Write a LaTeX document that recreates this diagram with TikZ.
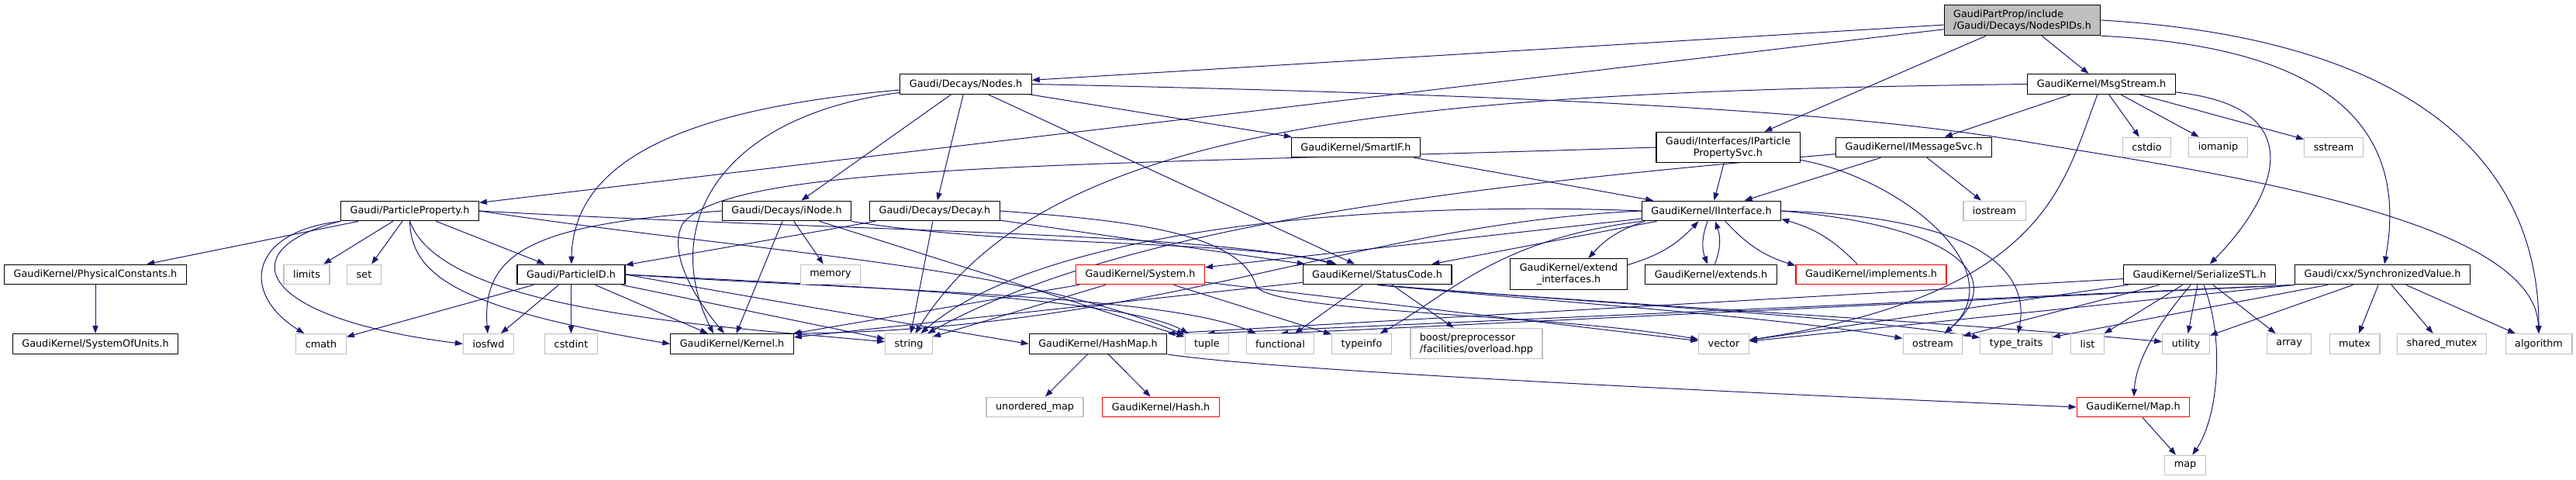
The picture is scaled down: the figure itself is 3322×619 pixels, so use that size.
\documentclass[tikz,border=0pt]{standalone}
\usepackage{fontspec}
\setmainfont{DejaVu Sans}
\usetikzlibrary{arrows.meta,backgrounds}
\definecolor{edgeblue}{HTML}{191970}
\definecolor{extgray}{HTML}{BFBFBF}
\tikzset{
  file/.style={draw=black, fill=white, line width=0.6pt, inner xsep=6pt, inner ysep=3pt,
    minimum height=12.8pt, align=center, font=\fontsize{6.4}{7.5}\selectfont},
  sysfile/.style={file, draw=extgray},
  cutfile/.style={file, draw=red},
  rootfile/.style={file, fill=extgray, align=left},
  dep/.style={edgeblue, line width=0.5pt, -{Triangle[length=5pt,width=3.6pt]}}
}

\begin{document}
\begin{tikzpicture}[x=0.5pt,y=0.5pt]
  \useasboundingbox (0,0) rectangle (3322,619);

  \node[rootfile] (nodespids) at (2608,593) {GaudiPartProp/include\\/Gaudi/Decays/NodesPIDs.h};

  \node[file] (nodes) at (1245.5,510.5) {Gaudi/Decays/Nodes.h};
  \node[file] (msg) at (2710,510.5) {GaudiKernel/MsgStream.h};

  \node[file] (smartif) at (1748.5,429) {GaudiKernel/SmartIF.h};
  \node[file] (ppsvc) at (2228.5,429) {Gaudi/Interfaces/IParticle\\PropertySvc.h};
  \node[file] (imsg) at (2468,429) {GaudiKernel/IMessageSvc.h};
  \node[sysfile] (cstdio) at (2768.5,429) {cstdio};
  \node[sysfile] (iomanip) at (2860.5,429) {iomanip};
  \node[sysfile] (sstream) at (3009.5,429) {sstream};

  \node[file] (ppty) at (528.5,347) {Gaudi/ParticleProperty.h};
  \node[file] (inode) at (1014.5,347) {Gaudi/Decays/iNode.h};
  \node[file] (decay) at (1205.5,347) {Gaudi/Decays/Decay.h};
  \node[file] (iinterface) at (2207,347) {GaudiKernel/IInterface.h};
  \node[sysfile] (iostream) at (2572,347) {iostream};

  \node[file] (physconst) at (123,265) {GaudiKernel/PhysicalConstants.h};
  \node[sysfile] (limits) at (395.5,265) {limits};
  \node[sysfile] (set) at (469.5,265) {set};
  \node[file] (pid) at (736.5,265) {Gaudi/ParticleID.h};
  \node[sysfile] (memory) at (1071,265) {memory};
  \node[cutfile] (system) at (1470.5,265) {GaudiKernel/System.h};
  \node[file] (status) at (1776,265) {GaudiKernel/StatusCode.h};
  \node[file] (extif) at (2023,265.5) {GaudiKernel/extend\\\_interfaces.h};
  \node[file] (extends) at (2206.5,265) {GaudiKernel/extends.h};
  \node[cutfile] (implements) at (2413,265) {GaudiKernel/implements.h};
  \node[file] (serial) at (2836.5,265) {GaudiKernel/SerializeSTL.h};
  \node[file] (sync) at (3072.5,265) {Gaudi/cxx/SynchronizedValue.h};

  \node[file] (sysunits) at (123,175.5) {GaudiKernel/SystemOfUnits.h};
  \node[sysfile] (cmath) at (414,175.5) {cmath};
  \node[sysfile] (iosfwd) at (630,175.5) {iosfwd};
  \node[sysfile] (cstdint) at (736.5,175.5) {cstdint};
  \node[file] (kernel) at (944,175.5) {GaudiKernel/Kernel.h};
  \node[sysfile] (string) at (1172,175.5) {string};
  \node[file] (hashmap) at (1416,175.5) {GaudiKernel/HashMap.h};
  \node[sysfile] (tuple) at (1556.5,175.5) {tuple};
  \node[sysfile] (functional) at (1651,175.5) {functional};
  \node[sysfile] (typeinfo) at (1756,175.5) {typeinfo};
  \node[sysfile, align=left] (boost) at (1904,176) {boost/preprocessor\\/facilities/overload.hpp};
  \node[sysfile] (vector) at (2223,175.5) {vector};
  \node[sysfile] (ostream) at (2492.5,175.5) {ostream};
  \node[sysfile] (typetraits) at (2600,175.5) {type\_traits};
  \node[sysfile] (list) at (2692,175.5) {list};
  \node[sysfile] (utility) at (2819,175.5) {utility};
  \node[sysfile] (array) at (2952,175.5) {array};
  \node[sysfile] (mutex) at (3036.5,175.5) {mutex};
  \node[sysfile] (sharedmutex) at (3149,175.5) {shared\_mutex};
  \node[sysfile] (algorithm) at (3274,175.5) {algorithm};

  \node[sysfile] (unorderedmap) at (1334.5,94) {unordered\_map};
  \node[cutfile] (hash) at (1497,94) {GaudiKernel/Hash.h};
  \node[cutfile] (gkmap) at (2751,94) {GaudiKernel/Map.h};

  \node[sysfile] (map) at (2818,19) {map};

  \begin{scope}[on background layer]
  \draw[dep] (nodespids) -- (nodes);
  \draw[dep] (nodespids) -- (ppty);
  \draw[dep] (nodespids) -- (ppsvc);
  \draw[dep] (nodespids) -- (msg);
  \draw[dep] (nodespids.south east) .. controls (2980,560) and (3110,470) .. (sync);
  \draw[dep] (nodespids.east) .. controls (3100,570) and (3274,420) .. (algorithm);

  \draw[dep] (nodes) .. controls (900,480) and (740,420) .. (pid);
  \draw[dep] (nodes) .. controls (930,470) and (850,330) .. ([xshift=-12pt]kernel.north);
  \draw[dep] (nodes) -- (inode);
  \draw[dep] (nodes) -- (decay);
  \draw[dep] (nodes) -- (status);
  \draw[dep] (nodes) -- (smartif);
  \draw[dep] (nodes.east) .. controls (2300,490) and (2500,455) .. (2650,430)
    .. controls (2900,390) and (3270,330) .. (algorithm);

  \draw[dep] (msg) -- (imsg);
  \draw[dep] (msg) -- (cstdio);
  \draw[dep] (msg) -- (iomanip);
  \draw[dep] (msg) -- (sstream);
  \draw[dep] (msg) .. controls (2990,480) and (2930,360) .. (serial);
  \draw[dep] (msg.west) .. controls (1800,500) and (1350,460) .. (string);
  \draw[dep] (msg) .. controls (2660,380) and (2640,240) .. (vector);

  \draw[dep] (smartif) -- (iinterface);

  \draw[dep] (ppsvc) -- (iinterface);
  \draw[dep] (ppsvc.west) .. controls (1400,405) and (940,410) .. (880,330)
    .. controls (860,290) and (900,230) .. ([xshift=-5pt]kernel.north);
  \draw[dep] (ppsvc) .. controls (2450,390) and (2600,270) .. (ostream);

  \draw[dep] (imsg) -- (iinterface);
  \draw[dep] (imsg) -- (iostream);
  \draw[dep] (imsg) .. controls (1900,380) and (1450,330) .. (string);

  \draw[dep] (iinterface) to[bend right=15] (extif);
  \draw[dep] (extif) to[bend right=15] (iinterface);
  \draw[dep] (iinterface) to[bend right=20] (extends);
  \draw[dep] (extends) to[bend right=20] (iinterface);
  \draw[dep] (iinterface) to[bend right=15] (implements);
  \draw[dep] (implements) to[bend right=15] (iinterface);
  \draw[dep] (iinterface) -- (system);
  \draw[dep] (iinterface) -- (status);
  \draw[dep] (iinterface.west) .. controls (1750,330) and (1500,195) .. (kernel.north east);
  \draw[dep] (iinterface.west) .. controls (1800,360) and (1350,330) .. (string);
  \draw[dep] (iinterface.south west) .. controls (1930,310) and (1870,240) .. (typeinfo);
  \draw[dep] (iinterface.east) .. controls (2500,330) and (2600,270) .. (ostream);
  \draw[dep] (iinterface.east) .. controls (2530,340) and (2620,280) .. (typetraits);

  \draw[dep] (system) -- (kernel);
  \draw[dep] (system) -- (string);
  \draw[dep] (system) -- (typeinfo);
  \draw[dep] (system) -- (vector);

  \draw[dep] (status) -- (kernel);
  \draw[dep] (status) -- (boost);
  \draw[dep] (status) -- (functional);
  \draw[dep] (status.south) .. controls (2000,230) and (2300,210) .. (ostream);
  \draw[dep] (status.south) .. controls (2100,225) and (2400,210) .. (typetraits);
  \draw[dep] (status.south) .. controls (2100,225) and (2500,205) .. (utility);

  \draw[dep] (ppty) -- (physconst);
  \draw[dep] (ppty.south west) .. controls (320,320) and (310,240) .. (cmath);
  \draw[dep] (ppty.south west) .. controls (300,300) and (320,210) .. (iosfwd.west);
  \draw[dep] (ppty) -- (limits);
  \draw[dep] (ppty) -- (set);
  \draw[dep] (ppty.south) .. controls (530,260) and (600,220) .. (kernel.west);
  \draw[dep] (ppty.south) .. controls (570,220) and (900,200) .. (string);
  \draw[dep] (ppty) -- (pid);
  \draw[dep] (ppty.east) .. controls (1000,290) and (1300,280) .. (tuple);
  \draw[dep] (ppty.east) .. controls (1100,320) and (1550,320) .. (status);

  \draw[dep] (physconst) -- (sysunits);

  \draw[dep] (pid) -- (cmath);
  \draw[dep] (pid) -- (iosfwd);
  \draw[dep] (pid) -- (cstdint);
  \draw[dep] (pid) -- (kernel);
  \draw[dep] (pid) -- (string);
  \draw[dep] (pid.east) .. controls (1000,230) and (1150,205) .. (hashmap.west);
  \draw[dep] (pid.east) .. controls (1100,250) and (1450,235) .. (tuple);
  \draw[dep] (pid.east) .. controls (1100,245) and (1500,240) .. (functional);

  \draw[dep] (inode.west) .. controls (700,330) and (620,300) .. (iosfwd);
  \draw[dep] (inode) -- (kernel);
  \draw[dep] (inode) -- (memory);
  \draw[dep] (inode) -- (tuple);
  \draw[dep] (inode.south east) .. controls (1300,300) and (1600,310) .. (status);

  \draw[dep] (decay) -- (pid);
  \draw[dep] (decay) -- (string);
  \draw[dep] (decay) -- (status);
  \draw[dep] (decay.east) .. controls (1450,335) and (1600,320) .. (1620,250)
    .. controls (1640,215) and (2000,215) .. (vector);

  \draw[dep] (hashmap) -- (unorderedmap);
  \draw[dep] (hashmap) -- (hash);
  \draw[dep] (hashmap.south east) .. controls (1650,140) and (2300,110) .. (gkmap.west);

  \draw[dep] (serial) -- (hashmap.north east);
  \draw[dep] (serial) -- (vector);
  \draw[dep] (serial) -- (ostream);
  \draw[dep] (serial) -- (list);
  \draw[dep] (serial) .. controls (2790,210) and (2755,160) .. (gkmap);
  \draw[dep] (serial) -- (utility);
  \draw[dep] (serial) .. controls (2870,180) and (2860,80) .. (map);
  \draw[dep] (serial) -- (array);

  \draw[dep] (sync.south west) -- (tuple.north);
  \draw[dep] (sync.south west) -- (functional.north);
  \draw[dep] (sync.south west) -- (vector);
  \draw[dep] (sync) -- (typetraits);
  \draw[dep] (sync) -- (utility);
  \draw[dep] (sync) -- (mutex);
  \draw[dep] (sync) -- (sharedmutex);
  \draw[dep] (sync) -- (algorithm);

  \draw[dep] (gkmap) -- (map);
  \end{scope}
\end{tikzpicture}
\end{document}
